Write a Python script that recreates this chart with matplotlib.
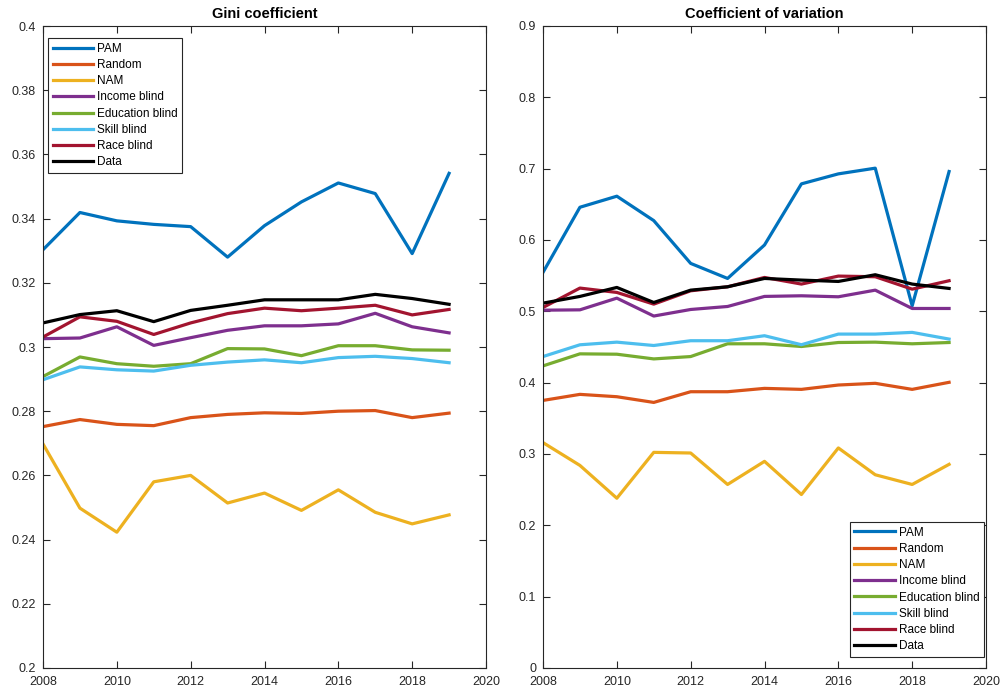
import matplotlib.pyplot as plt
import numpy as np

years = np.arange(2008, 2020)
labels = ['PAM', 'Random', 'NAM', 'Income blind', 'Education blind',
          'Skill blind', 'Race blind', 'Data']
colors = ['#0072BD', '#D95319', '#EDB120', '#7E2F8E', '#77AC30',
          '#4DBEEE', '#A2142F', '#000000']

# Gini coefficient
gini_pam = [0.3303, 0.3419, 0.3393, 0.3382, 0.3375, 0.3280, 0.3378, 0.3452, 0.3511, 0.3478, 0.3291, 0.3541]
gini_random = [0.2752, 0.2774, 0.2759, 0.2755, 0.2780, 0.2790, 0.2795, 0.2793, 0.2800, 0.2802, 0.2780, 0.2794]
gini_nam = [0.2698, 0.2498, 0.2423, 0.2580, 0.2600, 0.2514, 0.2545, 0.2491, 0.2555, 0.2485, 0.2449, 0.2477]
gini_income = [0.3026, 0.3028, 0.3063, 0.3005, 0.3029, 0.3052, 0.3066, 0.3066, 0.3072, 0.3105, 0.3063, 0.3044]
gini_educ = [0.2908, 0.2969, 0.2948, 0.2940, 0.2948, 0.2995, 0.2994, 0.2973, 0.3004, 0.3004, 0.2991, 0.2990]
gini_skill = [0.2898, 0.2938, 0.2929, 0.2925, 0.2943, 0.2953, 0.2960, 0.2951, 0.2967, 0.2971, 0.2964, 0.2951]
gini_race = [0.3031, 0.3094, 0.3080, 0.3039, 0.3075, 0.3104, 0.3121, 0.3113, 0.3121, 0.3130, 0.3100, 0.3117]
gini_data = [0.3075, 0.3101, 0.3113, 0.3079, 0.3114, 0.3130, 0.3147, 0.3147, 0.3147, 0.3164, 0.3151, 0.3133]

# Coefficient of variation
cv_pam = [0.5546, 0.6459, 0.6614, 0.6272, 0.5672, 0.5461, 0.5930, 0.6787, 0.6927, 0.7007, 0.5077, 0.6960]
cv_random = [0.3751, 0.3836, 0.3803, 0.3723, 0.3873, 0.3873, 0.3920, 0.3906, 0.3967, 0.3991, 0.3906, 0.4005]
cv_nam = [0.3160, 0.2840, 0.2380, 0.3023, 0.3014, 0.2573, 0.2897, 0.2432, 0.3085, 0.2709, 0.2573, 0.2855]
cv_income = [0.5016, 0.5021, 0.5185, 0.4934, 0.5026, 0.5068, 0.5209, 0.5218, 0.5204, 0.5297, 0.5040, 0.5040]
cv_educ = [0.4235, 0.4404, 0.4399, 0.4333, 0.4366, 0.4545, 0.4545, 0.4507, 0.4563, 0.4568, 0.4545, 0.4563]
cv_skill = [0.4366, 0.4531, 0.4568, 0.4521, 0.4588, 0.4588, 0.4658, 0.4532, 0.4681, 0.4681, 0.4705, 0.4611]
cv_race = [0.5054, 0.5326, 0.5265, 0.5101, 0.5288, 0.5344, 0.5475, 0.5382, 0.5494, 0.5485, 0.5311, 0.5429]
cv_data = [0.5115, 0.5209, 0.5335, 0.5124, 0.5297, 0.5344, 0.5461, 0.5438, 0.5419, 0.5513, 0.5382, 0.5321]

gini = [gini_pam, gini_random, gini_nam, gini_income, gini_educ, gini_skill, gini_race, gini_data]
cv = [cv_pam, cv_random, cv_nam, cv_income, cv_educ, cv_skill, cv_race, cv_data]

plt.rcParams['font.family'] = ['Liberation Sans', 'DejaVu Sans']
plt.rcParams['font.size'] = 9

fig = plt.figure(figsize=(10.05, 6.92), dpi=100)
ax1 = fig.add_axes([43 / 1005, 24 / 692, 443 / 1005, 642 / 692])
ax2 = fig.add_axes([543 / 1005, 24 / 692, 443 / 1005, 642 / 692])

# MATLAB-ish axes
def style(ax, title):
    ax.set_xlim(2008, 2020)
    ax.set_xticks(range(2008, 2021, 2))
    ax.tick_params(direction='in', top=True, right=True, length=5,
                   colors='#262626', labelcolor='#262626', width=0.8)
    ax.tick_params(axis='x', pad=6)
    ax.tick_params(axis='y', pad=5)
    for s in ax.spines.values():
        s.set_color('#262626')
        s.set_linewidth(0.8)
    ax.set_title(title, fontweight='bold', fontsize=10.5, pad=6)

for i in range(len(labels)):
    ax1.plot(years, gini[i], color=colors[i], lw=2.3, label=labels[i])
    ax2.plot(years, cv[i], color=colors[i], lw=2.3, label=labels[i])

style(ax1, 'Gini coefficient')
ax1.set_ylim(0.2, 0.4)
ax1.set_yticks(np.arange(0.2, 0.401, 0.02))
ax1.set_yticklabels(['0.2', '0.22', '0.24', '0.26', '0.28', '0.3', '0.32',
                     '0.34', '0.36', '0.38', '0.4'])

style(ax2, 'Coefficient of variation')
ax2.set_ylim(0, 0.9)
ax2.set_yticks(np.arange(0, 0.91, 0.1))
ax2.set_yticklabels(['0', '0.1', '0.2', '0.3', '0.4', '0.5', '0.6', '0.7', '0.8', '0.9'])

leg_kw = dict(fontsize=8.5, handlelength=3.4, handletextpad=0.35, labelspacing=0.36,
              borderpad=0.4, fancybox=False, framealpha=1, edgecolor='#262626',
              borderaxespad=0)
l1 = ax1.legend(loc='upper left', bbox_to_anchor=(5 / 443, 1 - 12 / 642), **leg_kw)
l2 = ax2.legend(loc='lower right', bbox_to_anchor=(1 - 2 / 443, 11 / 642), **leg_kw)
for l in (l1, l2):
    l.get_frame().set_linewidth(0.8)

fig.savefig('out.png', dpi=100)
